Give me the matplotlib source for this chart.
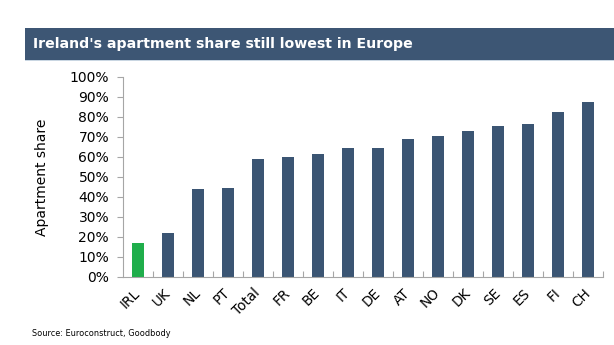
import matplotlib
matplotlib.use('Agg')
import matplotlib.pyplot as plt
import matplotlib.patches as mpt
import matplotlib.transforms as mtr
from matplotlib.ticker import FuncFormatter

# apartment share of dwelling stock by country
countries = ['IRL', 'UK', 'NL', 'PT', 'Total', 'FR', 'BE', 'IT', 'DE', 'AT',
             'NO', 'DK', 'SE', 'ES', 'FI', 'CH']
share = [17, 22, 44, 44.5, 59, 60, 61.5, 64.7, 64.7, 69, 70.7, 73.2, 75.7,
         76.3, 82.3, 87.7]
highlight = 'IRL'

navy = '#3b5573'
green = '#1fae4b'
grey = '#a6a6a6'

fig = plt.figure(figsize=(6.14, 3.45), dpi=100)

# ----------------------------------------------------------------- TITLE BAR
fig.patches.append(mpt.Rectangle((25/614, 1-60/345), 1-25/614, 32/345,
                                 transform=fig.transFigure, fc='#3d5674',
                                 ec='none'))
fig.patches.append(mpt.Rectangle((25/614, 1-61/345), 1-25/614, 1/345,
                                 transform=fig.transFigure, fc='#c9d6e2',
                                 ec='none'))
fig.text(33/614, 1-44/345, "Ireland's apartment share still lowest in Europe",
         color='white', fontsize=10.2, fontweight='bold', va='center',
         ha='left')

# ---------------------------------------------------------------------- BARS
ax = fig.add_axes([123/614, 1-277/345, 480/614, 200/345])
colors = [green if c == highlight else navy for c in countries]
x = range(len(countries))
ax.bar(x, share, width=0.4, color=colors, edgecolor='none')

ax.set_xlim(-0.5, len(countries)-0.5)
ax.set_ylim(0, 100)
ax.set_yticks(range(0, 101, 10))
ax.yaxis.set_major_formatter(FuncFormatter(lambda v, p: '%d%%' % v))
ax.set_xticks(x)
ax.set_xticklabels(countries, rotation=45, ha='right', va='center',
                   rotation_mode='anchor')
ax.set_xticks([i+0.5 for i in range(len(countries))], minor=True)

# nudge rotated labels so their ends sit under the bars
shift = mtr.ScaledTranslation(-4/100, 0, fig.dpi_scale_trans)
for lbl in ax.get_xticklabels():
    lbl.set_transform(lbl.get_transform() + shift)

for s in ['top', 'right']:
    ax.spines[s].set_visible(False)
for s in ['left', 'bottom']:
    ax.spines[s].set_color(grey)
    ax.spines[s].set_linewidth(0.8)

ax.tick_params(axis='y', colors=grey, labelcolor='black', labelsize=10,
               length=4, width=0.8, pad=6)
ax.tick_params(axis='x', which='major', length=0, labelsize=9.8,
               labelcolor='black', pad=10)
ax.tick_params(axis='x', which='minor', length=4, width=0.8, colors=grey,
               direction='in')

ax.set_ylabel('Apartment share', fontsize=10)
ax.yaxis.set_label_coords(-0.154, 0.5)

fig.text(32/614, 1-333/345, 'Source: Euroconstruct, Goodbody', fontsize=5.9,
         va='center', ha='left')

fig.savefig('out.png', dpi=100)
